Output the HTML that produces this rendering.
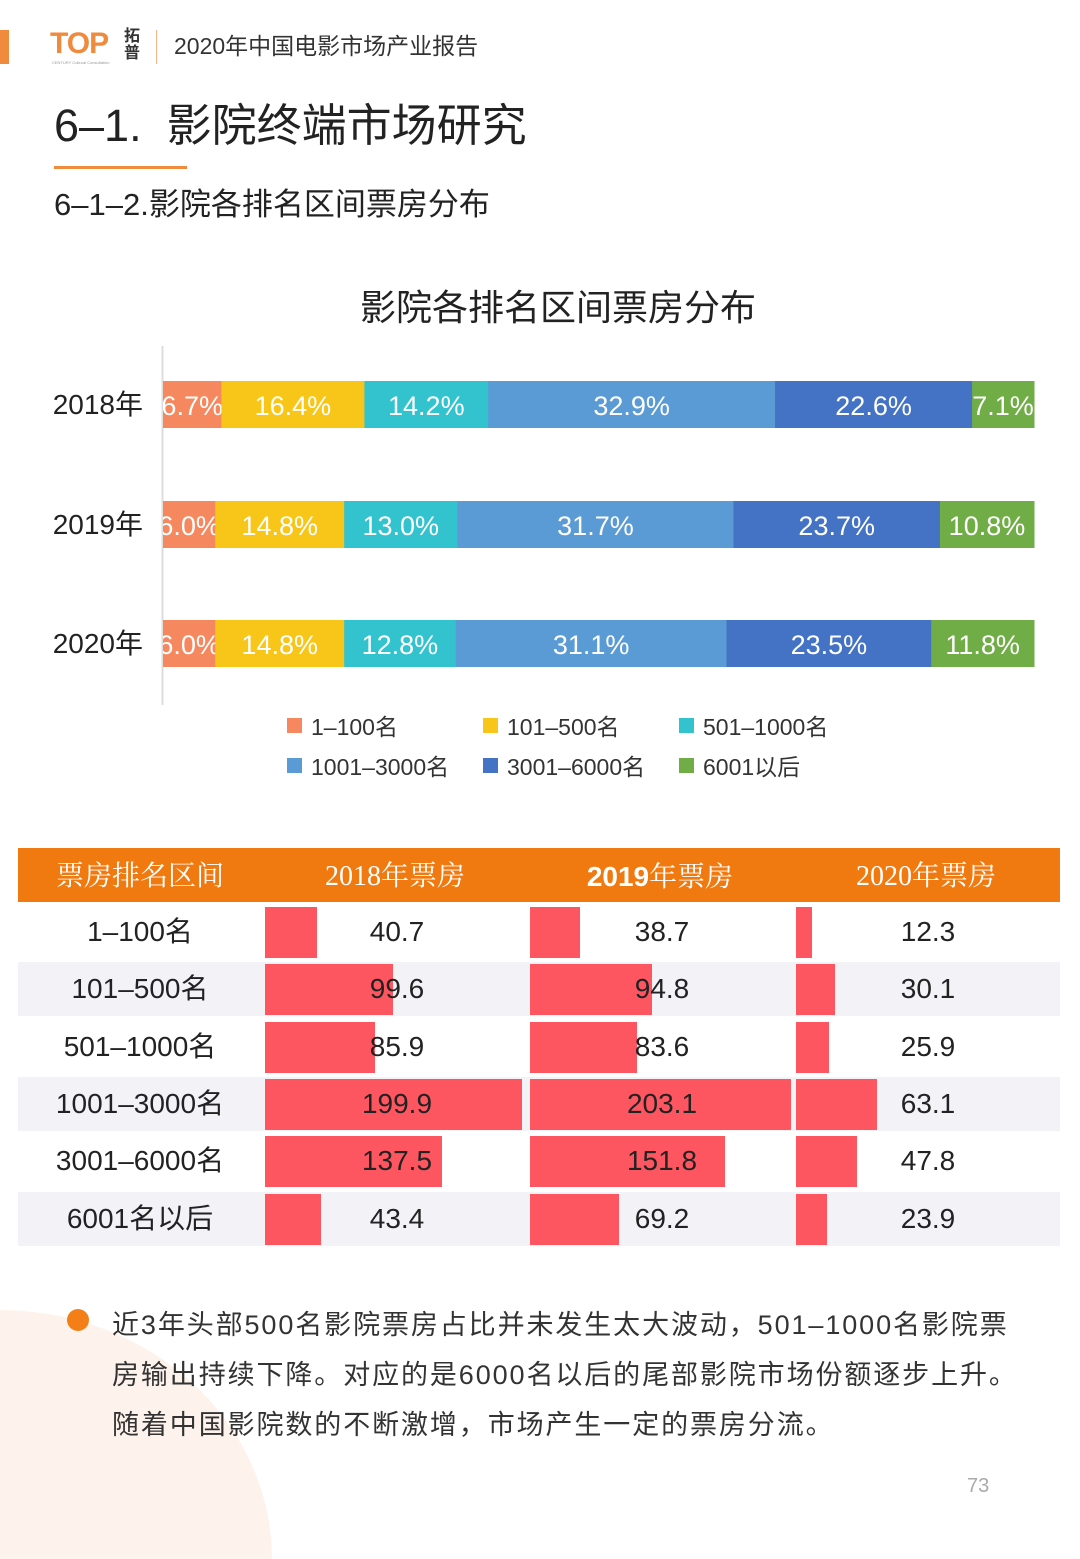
<!DOCTYPE html>
<html><head><meta charset="utf-8">
<style>
html,body{margin:0;padding:0}
#page{width:1080px;height:1559px;position:relative;overflow:hidden;background:#fff;font-family:"Liberation Sans","Noto Sans CJK SC",sans-serif;color:#222}
.abs{position:absolute}
</style></head>
<body>
<div id="page">
<div class="abs" style="left:0;top:1310px;width:272px;height:249px;border-top-right-radius:272px 249px;background:#fdf3ec"></div>
<div class="abs" style="left:0;top:30px;width:9px;height:34px;background:#f08a3c"></div>
<div class="abs" style="left:50px;top:28px;font-weight:bold;font-size:30px;line-height:32px;color:#f08a3c;letter-spacing:-1px">TOP</div>
<div class="abs" style="left:52px;top:60px;font-size:4px;line-height:5px;color:#999">CENTURY Cultural Consultation</div>
<div class="abs" style="left:124px;top:28px;font-size:16px;line-height:17px;font-weight:bold;color:#333">拓<br>普</div>
<div class="abs" style="left:156px;top:30px;width:1px;height:34px;background:#f3b58a"></div>
<div class="abs" style="left:174px;top:31px;font-size:23px;line-height:30px;color:#333">2020年中国电影市场产业报告</div>
<div class="abs" style="left:54px;top:98px;font-size:45px;line-height:56px;color:#222">6–1.&nbsp; 影院终端市场研究</div>
<div class="abs" style="left:54px;top:166px;width:133px;height:3px;background:#f08a3c"></div>
<div class="abs" style="left:54px;top:185px;font-size:31px;line-height:40px;color:#222">6–1–2.影院各排名区间票房分布</div>

<svg class="abs" style="left:0;top:0" width="1080" height="800">
<text x="558" y="320" text-anchor="middle" font-size="36" fill="#222">影院各排名区间票房分布</text>
<line x1="162.5" y1="346" x2="162.5" y2="705" stroke="#ddd" stroke-width="2"/>
<defs><clipPath id="cp"><rect x="163" y="340" width="872" height="360"/></clipPath></defs>
<g id="bars" clip-path="url(#cp)"></g>
<g id="ylabels"></g>
<g id="legend"></g>
</svg>

<div class="abs" style="left:18px;top:848px;width:1042px;height:400px">
<div class="abs" style="left:0;top:0;width:1042px;height:54px;line-height:54px;background:#f07a10;color:#fff;font-size:28px;font-family:'Liberation Serif','Noto Serif CJK SC',serif">
<span class="abs" style="left:0;width:244px;text-align:center;top:2px">票房排名区间</span>
<span class="abs" style="left:247px;width:260px;text-align:center;top:2px">2018年票房</span>
<span class="abs" style="left:512px;width:260px;text-align:center;top:2px"><b style="font-family:'Liberation Sans',sans-serif">2019</b>年票房</span>
<span class="abs" style="left:778px;width:260px;text-align:center;top:2px">2020年票房</span>
</div>
<div id="rows"></div>
</div>

<div class="abs" style="left:67px;top:1309px;width:22px;height:22px;border-radius:50%;background:#f57f17"></div>
<div class="abs" style="left:112px;top:1300px;width:960px;font-size:27px;line-height:50px;letter-spacing:1.9px;color:#333;white-space:nowrap">近3年头部500名影院票房占比并未发生太大波动，501–1000名影院票<br>房输出持续下降。对应的是6000名以后的尾部影院市场份额逐步上升。<br>随着中国影院数的不断激增，市场产生一定的票房分流。</div>
<div class="abs" style="left:967px;top:1474px;font-size:20px;line-height:24px;color:#aaa">73</div>
</div>

<script>
const years=["2018年","2019年","2020年"];
const seriesNames=["1–100名","101–500名","501–1000名","1001–3000名","3001–6000名","6001以后"];
const colors=["#f5885f","#f8c618","#33c3cf","#5b9bd5","#4472c4","#70ad47"];
const share2018=[6.7,16.4,14.2,32.9,22.6,7.1];
const share2019=[6.0,14.8,13.0,31.7,23.7,10.8];
const share2020=[6.0,14.8,12.8,31.1,23.5,11.8];
const shares=[share2018,share2019,share2020];

const rankLabels=["1–100名","101–500名","501–1000名","1001–3000名","3001–6000名","6001名以后"];
const box2018=[40.7,99.6,85.9,199.9,137.5,43.4];
const box2019=[38.7,94.8,83.6,203.1,151.8,69.2];
const box2020=[12.3,30.1,25.9,63.1,47.8,23.9];
const boxes=[box2018,box2019,box2020];

const NS="http://www.w3.org/2000/svg";
const x0=163,W=871;
const yc=[405,525,644];
const bars=document.getElementById('bars'),yl=document.getElementById('ylabels'),lg=document.getElementById('legend');
shares.forEach((arr,i)=>{
  const tot=arr.reduce((a,b)=>a+b,0);
  let x=x0;
  arr.forEach((v,j)=>{
    const w=v/tot*W;
    const r=document.createElementNS(NS,'rect');
    r.setAttribute('x',x);r.setAttribute('y',yc[i]-24);r.setAttribute('width',w+0.5);r.setAttribute('height',47);r.setAttribute('fill',colors[j]);
    
    
    bars.appendChild(r);
    const t=document.createElementNS(NS,'text');
    t.setAttribute('x',x+w/2);t.setAttribute('y',yc[i]+10);t.setAttribute('text-anchor','middle');t.setAttribute('font-size','27');t.setAttribute('fill','#fff');
    t.textContent=v.toFixed(1)+'%';
    
    
    bars.appendChild(t);
    x+=w;
  });
  const t=document.createElementNS(NS,'text');
  t.setAttribute('x',143);t.setAttribute('y',yc[i]+9);t.setAttribute('text-anchor','end');t.setAttribute('font-size','28');t.setAttribute('fill','#222');
  t.textContent=years[i];
  
  
  yl.appendChild(t);
});
const lx=[287,483,679];
seriesNames.forEach((n,j)=>{
  const x=lx[j%3],y=j<3?726:766;
  const r=document.createElementNS(NS,'rect');
  r.setAttribute('x',x);r.setAttribute('y',y-8);r.setAttribute('width',15);r.setAttribute('height',15);r.setAttribute('fill',colors[j]);
  
  
  lg.appendChild(r);
  const t=document.createElementNS(NS,'text');
  t.setAttribute('x',x+24);t.setAttribute('y',y+9);t.setAttribute('font-size','23');t.setAttribute('fill','#333');
  t.textContent=n;
  
  
  lg.appendChild(t);
});

const rows=document.getElementById('rows');
const scale=1.285;
const colX=[247,512,778];
rankLabels.forEach((lab,i)=>{
  const row=document.createElement('div');
  row.className='abs';
  row.style.cssText='left:0;top:'+(57+i*57.3)+'px;width:1042px;height:54px;background:'+(i%2?'#f3f3f7':'#fff');
  
  
  const l=document.createElement('div');
  l.className='abs';
  l.style.cssText='left:0;width:244px;text-align:center;top:0;height:54px;line-height:54px;font-size:28px;color:#222';
  l.textContent=lab;
  
  
  row.appendChild(l);
  boxes.forEach((arr,c)=>{
    const b=document.createElement('div');
    b.className='abs';
    b.style.cssText='left:'+colX[c]+'px;top:2px;height:51px;width:'+(arr[i]*scale)+'px;background:#fd5661';
    
    
    row.appendChild(b);
    const t=document.createElement('div');
    t.className='abs';
    t.style.cssText='left:'+(colX[c]+2)+'px;width:260px;text-align:center;top:0;height:54px;line-height:54px;font-size:28px;color:#222';
    t.textContent=arr[i].toFixed(1);
    
    
    row.appendChild(t);
  });
  rows.appendChild(row);
});
</script>
</body></html>
